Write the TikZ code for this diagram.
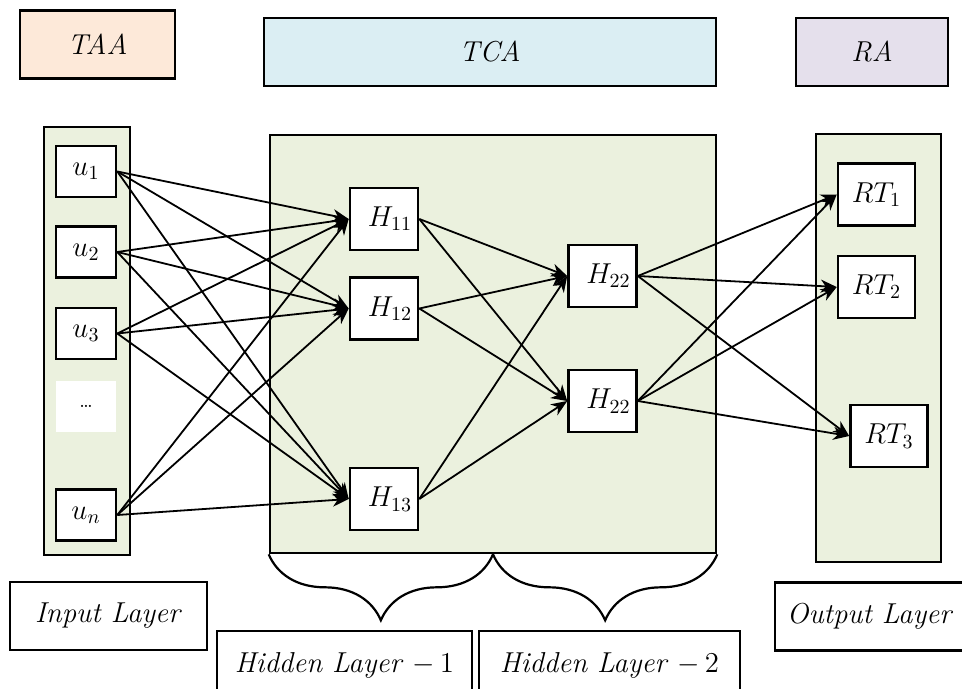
\documentclass[tikz,border=0pt]{standalone}
\usepackage{xcolor}
\usepackage{amsmath}
\usepackage{tikz}
\usetikzlibrary{arrows.meta, positioning, decorations.pathreplacing}
\definecolor{layergreen}{HTML}{EBF1DE}
\definecolor{taapeach}{HTML}{FDE9D9}
\definecolor{tcablue}{HTML}{DBEEF3}
\definecolor{ralilac}{HTML}{E5E0EC}

\begin{document}
\begin{tikzpicture}[
    x=0.5pt, y=-0.5pt,
    % 1. base look of every box
    base/.style={draw=black, line width=1.3pt, inner sep=0pt, font=\Large},
    % 2. header and caption boxes
    header/.style={base, minimum height=34pt},
    caption/.style={base, fill=white, minimum height=34pt},
    % 3. green layer columns
    column/.style={base, fill=layergreen},
    % 4. neuron boxes
    unit/.style={base, fill=white},
    inunit/.style={unit, minimum width=30pt, minimum height=25.5pt},
    hidunit/.style={unit, minimum width=34pt, minimum height=31pt},
    outunit/.style={unit, minimum width=38.5pt, minimum height=31pt},
    % 5. links and braces
    arrow/.style={-{Stealth[length=8pt, width=6.5pt, inset=2.5pt]}, line width=0.9pt},
    brace/.style={decorate, decoration={brace, amplitude=33pt}, line width=1.1pt}
]
    \useasboundingbox (0,0) rectangle (962,689);

    % --- HEADERS ---
    \node[header, fill=taapeach, minimum width=77.5pt] (taa) at (97.5,44.5) {\textit{TAA}};
    \node[header, fill=tcablue, minimum width=226pt] (tca) at (490,52) {\textit{TCA}};
    \node[header, fill=ralilac, minimum width=76pt] (ra) at (872,52) {\textit{RA}};

    % --- COLUMNS ---
    \node[column, minimum width=43pt, minimum height=214pt] (inbox) at (87,341) {};
    \node[column, minimum width=223pt, minimum height=209pt] (hidbox) at (493,344) {};
    \node[column, minimum width=62.5pt, minimum height=214pt] (outbox) at (878.5,348) {};

    % --- INPUT LAYER ---
    \node[inunit] (u1) at (86,171.5) {$u_1$};
    \node[inunit] (u2) at (86,252) {$u_2$};
    \node[inunit] (u3) at (86,333.5) {$u_3$};
    \node[inunit, draw=none] (dots) at (86,406) {\normalsize\ldots};
    \node[inunit] (un) at (86,515) {$u_n$};

    % --- HIDDEN LAYERS ---
    \node[hidunit] (h11) at (384,219) {\hspace*{6pt}$H_{11}$};
    \node[hidunit] (h12) at (384,308.5) {\hspace*{6pt}$H_{12}$};
    \node[hidunit] (h13) at (384,499) {\hspace*{6pt}$H_{13}$};
    \node[hidunit] (h21) at (602.5,276) {\hspace*{6pt}$H_{22}$};
    \node[hidunit] (h22) at (602.5,401) {\hspace*{6pt}$H_{22}$};

    % --- OUTPUT LAYER ---
    \node[outunit] (rt1) at (876.5,194.5) {$RT_1$};
    \node[outunit] (rt2) at (876.5,287) {$RT_2$};
    \node[outunit] (rt3) at (889,436) {$RT_3$};

    % --- CAPTIONS ---
    \node[caption, minimum width=98.5pt] (incap) at (108.5,616) {\textit{Input Layer}};
    \node[caption, minimum width=95pt] (outcap) at (870,616.5) {\textit{Output Layer}};
    \node[caption, minimum width=127.5pt] (hid1cap) at (344.5,665) {\textit{Hidden Layer} $-\,1$};
    \node[caption, minimum width=130.5pt] (hid2cap) at (609.5,665) {\textit{Hidden Layer} $-\,2$};

    % --- BRACES under the hidden block ---
    \draw[brace] (hidbox.south) -- (hidbox.south west);
    \draw[brace] (hidbox.south east) -- (hidbox.south);

    % Input -> Hidden 1
    \draw[arrow] (u1.east) -- (h11.west);
    \draw[arrow] (u1.east) -- (h12.west);
    \draw[arrow] (u1.east) -- (h13.west);
    \draw[arrow] (u2.east) -- (h11.west);
    \draw[arrow] (u2.east) -- (h12.west);
    \draw[arrow] (u2.east) -- (h13.west);
    \draw[arrow] (u3.east) -- (h11.west);
    \draw[arrow] (u3.east) -- (h12.west);
    \draw[arrow] (u3.east) -- (h13.west);
    \draw[arrow] (un.east) -- (h11.west);
    \draw[arrow] (un.east) -- (h12.west);
    \draw[arrow] (un.east) -- (h13.west);

    % Hidden 1 -> Hidden 2
    \draw[arrow] (h11.east) -- (h21.west);
    \draw[arrow] (h11.east) -- (h22.west);
    \draw[arrow] (h12.east) -- (h21.west);
    \draw[arrow] (h12.east) -- (h22.west);
    \draw[arrow] (h13.east) -- (h21.west);
    \draw[arrow] (h13.east) -- (h22.west);

    % Hidden 2 -> Output
    \draw[arrow] (h21.east) -- (rt1.west);
    \draw[arrow] (h21.east) -- (rt2.west);
    \draw[arrow] (h21.east) -- (rt3.west);
    \draw[arrow] (h22.east) -- (rt1.west);
    \draw[arrow] (h22.east) -- (rt2.west);
    \draw[arrow] (h22.east) -- (rt3.west);

\end{tikzpicture}
\end{document}
